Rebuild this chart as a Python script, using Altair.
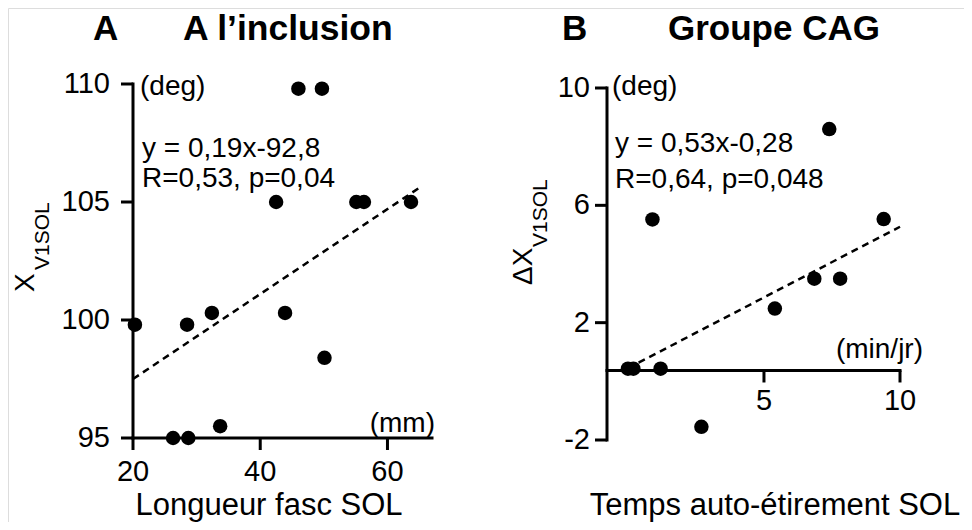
import altair as alt
import pandas as pd

# ---------------- data ----------------
# Panel A : A l'inclusion
a_x = [20.3, 26.3, 28.7, 28.5, 32.4, 33.7, 42.5, 43.9, 46.0, 49.7, 50.1, 55.1, 56.3, 63.7]
a_y = [99.8, 95.0, 95.0, 99.8, 100.3, 95.5, 105.0, 100.3, 109.8, 109.8, 98.4, 105.0, 105.0, 105.0]
a_fit_x = [20, 65]
a_fit_y = [97.5, 105.6]
a_xticks = [20, 40, 60]
a_xlabels = ["20", "40", "60"]
a_yticks = [95, 100, 105, 110]
a_ylabels = ["95", "100", "105", "110"]

# Panel B : Groupe CAG
b_x = [0.0, 0.2, 1.2, 0.9, 2.7, 5.4, 6.85, 7.8, 7.4, 9.4]
b_y = [0.43, 0.43, 0.43, 5.52, -1.55, 2.48, 3.5, 3.5, 8.6, 5.53]
b_fit_x = [0, 10]
b_fit_y = [0.45, 5.27]
b_xticks = [5, 10]
b_xlabels = ["5", "10"]
b_yticks = [-2, 2, 6, 10]
b_ylabels = ["-2", "2", "6", "10"]

FONT = "Liberation Sans"
H = 514

# scales (pixel ranges inside the view)
xa = alt.Scale(domain=[20, 67], range=[125, 424], nice=False, zero=False)
ya = alt.Scale(domain=[95, 110], range=[430, 76], nice=False, zero=False)
xb = alt.Scale(domain=[-0.77, 10], range=[599, 892], nice=False, zero=False)
yb = alt.Scale(domain=[-2, 10], range=[432, 80], nice=False, zero=False)


def panel(xs, ys, xs_pts, ys_pts, fit_x, fit_y, xticks, xlabels, yticks, ylabels,
          x_lo, x_hi, y_lo, y_hi, xaxis_at, yaxis_at, xlab_dy, ylab_dx):
    def X(f):
        return alt.X(f, type="quantitative", scale=xs, axis=None)

    def Y(f):
        return alt.Y(f, type="quantitative", scale=ys, axis=None)

    ax_style = dict(color="black", strokeWidth=3, strokeCap="square")
    dom_x = alt.Chart(pd.DataFrame({"a": [x_lo], "b": [x_hi], "c": [xaxis_at]})).mark_rule(
        **ax_style).encode(x=X("a"), x2="b", y=Y("c"))
    dom_y = alt.Chart(pd.DataFrame({"a": [yaxis_at], "b": [y_lo], "c": [y_hi]})).mark_rule(
        **ax_style).encode(x=X("a"), y=Y("b"), y2="c")
    dxt = pd.DataFrame({"v": xticks, "t": xlabels, "c": [xaxis_at] * len(xticks)})
    dyt = pd.DataFrame({"v": yticks, "t": ylabels, "c": [yaxis_at] * len(yticks)})
    tick_x = alt.Chart(dxt).mark_rule(color="black", strokeWidth=3, y2Offset=12).encode(
        x=X("v"), y=Y("c"), y2="c")
    tick_y = alt.Chart(dyt).mark_rule(color="black", strokeWidth=3, x2Offset=-12).encode(
        y=Y("v"), x=X("c"), x2="c")
    lab_x = alt.Chart(dxt).mark_text(font=FONT, fontSize=29, color="black", baseline="top",
                                     align="center", dy=xlab_dy).encode(
        x=X("v"), y=Y("c"), text="t:N")
    lab_y = alt.Chart(dyt).mark_text(font=FONT, fontSize=29, color="black", baseline="middle",
                                     align="right", dx=ylab_dx).encode(
        y=Y("v"), x=X("c"), text="t:N")
    fit = alt.Chart(pd.DataFrame({"x": fit_x, "y": fit_y})).mark_line(
        color="black", strokeWidth=2.5, strokeDash=[7, 5]).encode(x=X("x"), y=Y("y"))
    pts = alt.Chart(pd.DataFrame({"x": xs_pts, "y": ys_pts})).mark_circle(
        size=210, color="black", opacity=1).encode(x=X("x"), y=Y("y"))
    return alt.layer(dom_x, dom_y, tick_x, tick_y, lab_x, lab_y, fit, pts)


layer_a = panel(xa, ya, a_x, a_y, a_fit_x, a_fit_y, a_xticks, a_xlabels, a_yticks, a_ylabels,
                20, 67, 95, 110, 95, 20, 20, -23)
layer_b = panel(xb, yb, b_x, b_y, b_fit_x, b_fit_y, b_xticks, b_xlabels, b_yticks, b_ylabels,
                -0.77, 10, -2, 10, 0.37, -0.77, 17, -17)

one = pd.DataFrame({"k": [0]})


def label(text, x, y, size=28, weight="normal", align="left", angle=0, baseline="alphabetic"):
    return alt.Chart(one).mark_text(
        font=FONT, fontSize=size, fontWeight=weight, align=align, angle=angle,
        baseline=baseline, color="black",
    ).encode(x=alt.value(x), y=alt.value(y), text=alt.value(text))


texts = [
    # panel titles
    label("A", 85, 32, size=35, weight="bold"),
    label("A l\u2019inclusion", 175, 32, size=35.5, weight="bold"),
    label("B", 554, 32, size=35, weight="bold"),
    label("Groupe CAG", 660, 32, size=35, weight="bold"),
    # panel A annotations
    label("(deg)", 132, 87),
    label("y = 0,19x-92,8", 134, 149),
    label("R=0,53, p=0,04", 134, 179),
    label("(mm)", 427, 424, align="right"),
    label("Longueur fasc SOL", 261, 507, size=31, align="center"),
    label("X", 26, 284, angle=270),
    label("V1SOL", 41, 262, size=21, angle=270),
    # panel B annotations
    label("(deg)", 604, 87),
    label("y = 0,53x-0,28", 607, 144),
    label("R=0,64, p=0,048", 607, 180),
    label("(min/jr)", 915, 350, align="right"),
    label("Temps auto-\u00e9tirement SOL", 767, 507, size=31, align="center"),
    label("\u0394X", 524, 277, angle=270),
    label("V1SOL", 539, 239, size=21, angle=270),
]

chart = alt.layer(layer_a, layer_b, *texts).resolve_scale(
    x="independent", y="independent"
).properties(
    width=956, height=H, autosize=alt.AutoSizeParams(type="none"), padding=0
).configure_view(stroke=None).configure(background="white")

chart.save("out.html", embed_options={"renderer": "svg", "actions": False})
